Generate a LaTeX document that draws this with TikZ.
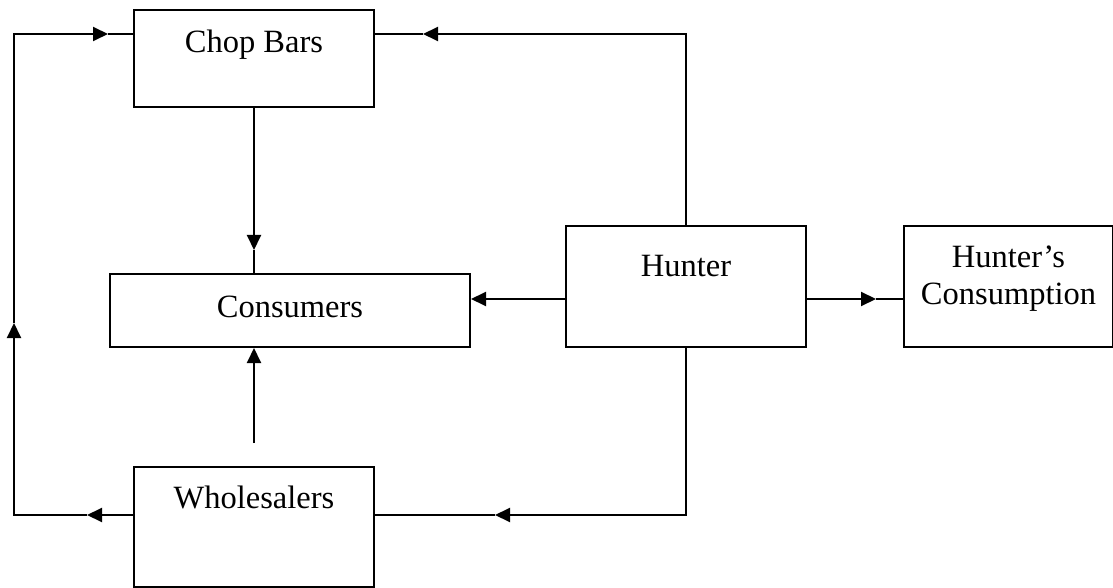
\documentclass[tikz,border=0pt]{standalone}
\usepackage{fontspec}
\setmainfont{Liberation Serif}
\usetikzlibrary{arrows.meta,positioning}

\begin{document}
\begin{tikzpicture}[->,>={Triangle[length=7.5pt,width=7pt]},x=0.5pt,y=-0.5pt,
                    line width=1pt]
  \tikzstyle{box}=[rectangle,draw=black,fill=white,inner sep=0pt,align=center,
                   font=\fontsize{16.25}{18.5}\selectfont,text height=11pt]
  \useasboundingbox (0,0) rectangle (1113,588);

  \node[box,minimum width=120pt,minimum height=48.5pt,text depth=17pt] (chop) at (254,58.5) {Chop Bars};
  \node[box,minimum width=180pt,minimum height=36.5pt,text depth=4.2pt] (cons) at (290,310.5) {Consumers};
  \node[box,minimum width=120pt,minimum height=60.5pt,text depth=21pt] (hunter) at (686,286.5) {Hunter};
  \node[box,minimum width=104.5pt,minimum height=60.5pt,text height=29.5pt,text depth=11.5pt] (hcons) [right=48pt of hunter] {Hunter’s\\Consumption};
  \node[box,minimum width=120pt,minimum height=60pt,text depth=30pt] (whole) at (254,527) {Wholesalers};

  % corners and free ends
  \coordinate (lb) at (14,515);
  \coordinate (lt) at (14,34);
  \coordinate (rt) at (686,34);
  \coordinate (rb) at (686,515);
  \coordinate (wtop) at (254,443);
  \coordinate (hw) at ([yshift=-6.25pt]hunter.west);
  \coordinate (he) at ([yshift=-6.25pt]hunter.east);
  % mid-line arrow tips
  \coordinate (t1) at (87,515);
  \coordinate (t2) at (14,323);
  \coordinate (t3) at (108,34);
  \coordinate (t4) at (423,34);
  \coordinate (t5) at (254,250);
  \coordinate (t6) at (876,299);
  \coordinate (t7) at (495,515);

  \draw (whole.west |- lb) -- (t1);
  \draw (t1) -- (lb) -- (t2);
  \draw (t2) -- (lt) -- (t3);
  \draw[-] (t3) -- (chop.west |- lt);
  \draw (hunter.north) -- (rt) -- (t4);
  \draw[-] (t4) -- (chop.east |- rt);
  \draw (hunter.south) -- (rb) -- (t7);
  \draw[-] (t7) -- (whole.east |- rb);

  \path (chop.south) edge (t5)
        (t5)         edge[-] (chop.south |- cons.north)
        (hw)         edge (hw -| cons.east)
        (wtop)       edge (wtop |- cons.south)
        (he)         edge (t6)
        (t6)         edge[-] (he -| hcons.west);

\end{tikzpicture}
\end{document}
